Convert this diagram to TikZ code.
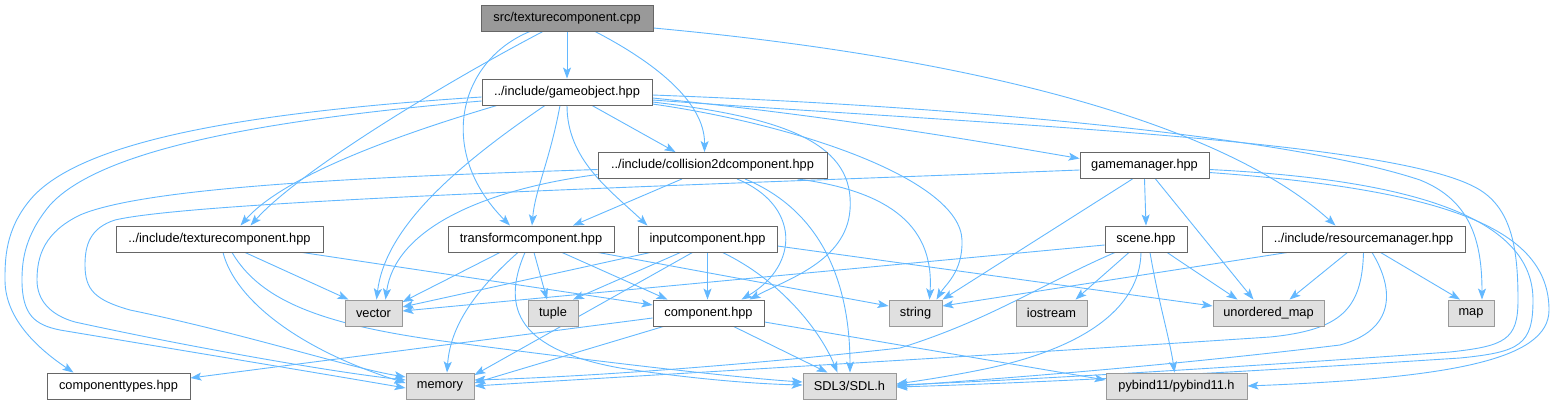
\documentclass[tikz,border=0pt]{standalone}
\usepackage{fontspec}
\setmainfont{Liberation Sans}
\usetikzlibrary{arrows.meta}
\pgfdeclarelayer{bg}
\pgfsetlayers{bg,main}
\definecolor{edgeblue}{HTML}{63B8FF}
\definecolor{rootfill}{HTML}{999999}
\definecolor{darkborder}{HTML}{666666}
\definecolor{grayfill}{HTML}{E0E0E0}
\definecolor{grayborder}{HTML}{999999}
\tikzset{
  basebox/.style={rectangle, inner sep=0pt, minimum height=26pt, line width=0.9pt, font=\fontsize{12.8}{15}\selectfont},
  rootn/.style={basebox, fill=rootfill, draw=darkborder},
  wn/.style={basebox, fill=white, draw=darkborder},
  gn/.style={basebox, fill=grayfill, draw=grayborder},
  dep/.style={draw=edgeblue, line width=0.9pt, -{Stealth[length=11pt,width=8pt,inset=2.5pt]}}
}
\begin{document}
\begin{tikzpicture}[x=1pt,y=-1pt]
\useasboundingbox (0,0) rectangle (1559,405);
\node[rootn, minimum width=172pt] (cpp) at (567,18) {src/texturecomponent.cpp};
\node[wn, minimum width=170pt] (go) at (567,92) {../include/gameobject.hpp};
\node[wn, minimum width=229pt] (col) at (712.5,165.5) {../include/collision2dcomponent.hpp};
\node[wn, minimum width=129pt] (gm) at (1144.5,165.5) {gamemanager.hpp};
\node[wn, minimum width=207pt] (txh) at (219.5,239) {../include/texturecomponent.hpp};
\node[wn, minimum width=166pt] (tr) at (531,239) {transformcomponent.hpp};
\node[wn, minimum width=139pt] (inp) at (707.5,239) {inputcomponent.hpp};
\node[wn, minimum width=82pt] (sc) at (1146,239) {scene.hpp};
\node[wn, minimum width=203pt] (rm) at (1363.5,239) {../include/resourcemanager.hpp};
\node[gn, minimum width=57pt] (vec) at (373.5,313) {vector};
\node[gn, minimum width=50pt] (tup) at (553,313) {tuple};
\node[wn, minimum width=111pt] (cmp) at (708.5,313) {component.hpp};
\node[gn, minimum width=53pt] (str) at (915.5,313) {string};
\node[gn, minimum width=71pt] (ios) at (1051.5,313) {iostream};
\node[gn, minimum width=111pt] (um) at (1268.5,313) {unordered\_map};
\node[gn, minimum width=46pt] (mapn) at (1471,313) {map};
\node[wn, minimum width=143pt] (ct) at (118.5,386) {componenttypes.hpp};
\node[gn, minimum width=68pt] (mem) at (440,386) {memory};
\node[gn, minimum width=93pt] (sdl) at (849.5,386) {SDL3/SDL.h};
\node[gn, minimum width=141pt] (pyb) at (1176.5,386) {pybind11/pybind11.h};

\begin{pgfonlayer}{bg}
% texturecomponent.cpp
\draw[dep] (cpp.south) -- (go.north);
\draw[dep] ([xshift=-24pt]cpp.south) .. controls (450,80) and (300,170) .. ([xshift=31pt]txh.north);
\draw[dep] ([xshift=-37pt]cpp.south) .. controls (460,60) and (435,150) .. ([xshift=-21pt]tr.north);
\draw[dep] ([xshift=28pt]cpp.south) .. controls (650,60) and (705,100) .. ([xshift=-8pt]col.north);
\draw[dep] ([yshift=-10pt]cpp.east) .. controls (1000,60) and (1230,130) .. ([xshift=-28pt]rm.north);
% gameobject.hpp
\draw[dep] ([xshift=-70pt]go.south) .. controls (380,140) and (280,180) .. ([xshift=21pt]txh.north);
\draw[dep] ([yshift=-5pt]go.west) .. controls (250,112) and (80,140) .. (30,200) .. controls (5,230) and (5,260) .. (5,280) .. controls (5,320) and (40,350) .. ([xshift=-45pt]ct.north);
\draw[dep] ([yshift=-9pt]go.west) .. controls (260,120) and (100,150) .. (50,205) .. controls (25,235) and (22,260) .. (22,280) .. controls (22,315) and (35,325) .. (60,330) .. controls (180,350) and (330,375) .. ([yshift=-2pt]mem.west);
\draw[dep] ([xshift=-22pt]go.south) .. controls (450,170) and (385,230) .. ([xshift=3pt]vec.north);
\draw[dep] ([xshift=-7pt]go.south) .. controls (550,160) and (535,190) .. ([xshift=1pt]tr.north);
\draw[dep] (go.south) .. controls (567,160) and (610,190) .. ([xshift=-60pt]inp.north);
\draw[dep] ([xshift=25pt]go.south) -- ([xshift=-37pt]col.north);
\draw[dep] ([yshift=-10pt]go.east) .. controls (790,118) and (855,145) .. (850,210) .. controls (846,262) and (785,280) .. ([xshift=41pt]cmp.north);
\draw[dep] ([yshift=-12pt]go.east) .. controls (800,125) and (960,180) .. (962,240) .. controls (963,272) and (945,285) .. ([xshift=21pt]str.north);
\draw[dep] ([yshift=-6pt]go.east) .. controls (850,118) and (1000,145) .. ([yshift=7pt]gm.west);
\draw[dep] ([yshift=-3pt]go.east) .. controls (1000,108) and (1300,140) .. (1420,180) .. controls (1470,200) and (1482,240) .. ([xshift=11pt]mapn.north);
\draw[dep] ([yshift=-8pt]go.east) .. controls (1000,125) and (1400,140) .. (1480,190) .. controls (1512,210) and (1518,250) .. (1518,300) .. controls (1518,340) and (1505,346) .. (1450,352) .. controls (1200,370) and (1000,381) .. ([yshift=1pt]sdl.east);
% collision2dcomponent.hpp
\draw[dep] ([xshift=-30.5pt]col.south) -- ([xshift=42pt]tr.north);
\draw[dep] ([yshift=-9pt]col.west) .. controls (480,190) and (395,230) .. ([xshift=12pt]vec.north);
\draw[dep] ([yshift=-4pt]col.west) .. controls (400,176) and (150,185) .. (80,215) .. controls (45,232) and (37,255) .. (37,280) .. controls (37,300) and (50,315) .. (75,322) .. controls (180,345) and (330,372) .. ([yshift=6pt]mem.west);
\draw[dep] ([xshift=24.5pt]col.south) .. controls (800,205) and (800,265) .. ([xshift=33pt]cmp.north);
\draw[dep] ([xshift=32.5pt]col.south) .. controls (820,210) and (850,280) .. ([xshift=0.5pt]sdl.north);
\draw[dep] ([xshift=85pt]col.south) .. controls (880,190) and (935,220) .. ([xshift=14pt]str.north);
% gamemanager.hpp
\draw[dep] (gm.south) -- (sc.north);
\draw[dep] ([xshift=11pt]gm.south) -- ([xshift=-15pt]um.north);
\draw[dep] ([xshift=-12pt]gm.south) -- (str.north east);
\draw[dep] ([yshift=-4.5pt]gm.west) .. controls (700,185) and (200,200) .. (115,220) .. controls (90,228) and (85,245) .. (85,265) .. controls (85,290) and (95,300) .. (130,310) .. controls (250,335) and (350,368) .. ([yshift=9pt]mem.west);
\draw[dep] ([yshift=-4pt]gm.east) .. controls (1420,180) and (1533,220) .. (1533,300) .. controls (1533,345) and (1520,352) .. (1460,358) .. controls (1200,375) and (1000,384) .. ([yshift=-1pt]sdl.east);
\draw[dep] ([yshift=-7pt]gm.east) .. controls (1450,190) and (1549,230) .. (1549,310) .. controls (1549,360) and (1450,378) .. (pyb.east);
% texturecomponent.hpp
\draw[dep] ([xshift=3.5pt]txh.south) .. controls (235,300) and (300,350) .. ([yshift=3pt]mem.west);
\draw[dep] ([xshift=12.5pt]txh.south) .. controls (260,300) and (320,325) .. (450,342) .. controls (600,362) and (740,378) .. ([yshift=4pt]sdl.west);
\draw[dep] ([xshift=25.5pt]txh.south) -- ([xshift=-25pt]vec.north);
\draw[dep] ([xshift=82.5pt]txh.south) -- ([yshift=8pt]cmp.west);
% transformcomponent.hpp
\draw[dep] ([xshift=-31pt]tr.south) -- ([yshift=11pt]vec.east);
\draw[dep] ([xshift=3pt]tr.south) -- ([xshift=-6pt]tup.north);
\draw[dep] ([xshift=31pt]tr.south) -- ([xshift=-41pt]cmp.north);
\draw[dep] ([xshift=67pt]tr.south) -- ([yshift=7pt]str.west);
\draw[dep] ([xshift=-13pt]tr.south) .. controls (470,295) and (450,330) .. ([xshift=7pt]mem.north);
\draw[dep] ([xshift=-6pt]tr.south) .. controls (500,310) and (520,350) .. (620,368) .. controls (700,380) and (760,384) .. ([yshift=1pt]sdl.west);
% inputcomponent.hpp
\draw[dep] ([xshift=-57pt]inp.south) -- ([yshift=6pt]vec.east);
\draw[dep] ([xshift=-27pt]inp.south) -- ([xshift=20pt]tup.north);
\draw[dep] (inp.south) -- (inp.south |- cmp.north);
\draw[dep] ([xshift=-15pt]inp.south) -- ([yshift=11pt]mem.east);
\draw[dep] ([xshift=15pt]inp.south) .. controls (780,280) and (820,330) .. ([xshift=-12pt]sdl.north);
\draw[dep] ([yshift=-7pt]inp.east) -- ([yshift=7pt]um.west);
% component.hpp
\draw[dep] ([yshift=-5pt]cmp.west) -- ([yshift=8pt]ct.east);
\draw[dep] ([xshift=-45pt]cmp.south) -- ([yshift=3pt]mem.east);
\draw[dep] ([xshift=25pt]cmp.south) -- ([xshift=-22pt]sdl.north);
\draw[dep] ([yshift=-9pt]cmp.east) -- ([yshift=6pt]pyb.west);
% scene.hpp
\draw[dep] ([yshift=-6pt]sc.west) -- ([yshift=2pt]vec.east);
\draw[dep] ([xshift=-31pt]sc.south) .. controls (1040,285) and (990,320) .. (900,348) .. controls (700,370) and (550,378) .. ([yshift=6pt]mem.east);
\draw[dep] ([xshift=-17pt]sc.south) -- ([xshift=24pt]ios.north);
\draw[dep] ([xshift=-5pt]sc.south) .. controls (1140,310) and (1080,350) .. (980,370) .. controls (940,378) and (910,382) .. ([yshift=2pt]sdl.east);
\draw[dep] ([xshift=4pt]sc.south) .. controls (1158,300) and (1170,340) .. ([xshift=-2pt]pyb.north);
\draw[dep] ([xshift=21pt]sc.south) -- ([xshift=-31pt]um.north);
% resourcemanager.hpp
\draw[dep] ([xshift=-76pt]rm.south) -- ([yshift=7pt]str.east);
\draw[dep] ([xshift=-16pt]rm.south) -- ([xshift=21pt]um.north);
\draw[dep] ([xshift=17pt]rm.south) -- ([xshift=-11pt]mapn.north);
\draw[dep] (rm.south) .. controls (1362,310) and (1340,330) .. (1270,337) .. controls (1000,355) and (600,378) .. ([yshift=0pt]mem.east);
\draw[dep] ([xshift=8.5pt]rm.south) .. controls (1395,290) and (1395,330) .. (1340,345) .. controls (1150,368) and (980,380) .. (sdl.east);
\end{pgfonlayer}
\end{tikzpicture}
\end{document}
